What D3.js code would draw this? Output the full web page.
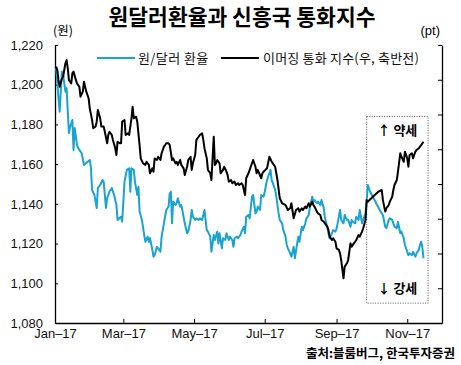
<!DOCTYPE html>
<html><head><meta charset="utf-8">
<script src="https://cdn.jsdelivr.net/npm/d3@7"></script>
<style>
html,body{margin:0;padding:0;background:#fff;}
svg{display:block;}
</style>
</head><body>
<svg id="c" width="461" height="365"></svg>
<script>
// ---- data ----
const title = "원달러환율과 신흥국 통화지수";
const leftUnit = "(원)";
const rightUnit = "(pt)";
const source = "출처:블룸버그, 한국투자증권";
const seriesNames = ["원/달러 환율", "이머징 통화 지수(우, 축반전)"];
const xTickDates = ["1/1","3/1","5/1","7/1","9/1","11/1"];
const leftTicks = [1080,1100,1120,1140,1160,1180,1200,1220];
const boxDates = ["9/27","11/19"];
const boxValues = [1184, 1090];
const boxLabels = ["↑ 약세","↓ 강세"];

const blueDates = ["1/2","1/5","1/7","1/8","1/10","1/11","1/13","1/14","1/16","1/17","1/18","1/20","1/21","1/23","1/24","1/26","1/28","1/31","2/1","2/2","2/4","2/6","2/7","2/9","2/11","2/12","2/14","2/15","2/17","2/19","2/21","2/23","2/24","2/26","2/27","2/28","3/2","3/4","3/6","3/7","3/8","3/10","3/11","3/13","3/14","3/15","3/17","3/19","3/20","3/22","3/23","3/24","3/26","3/27","3/28","3/30","3/31","4/2","4/3","4/5","4/6","4/7","4/9","4/10","4/11","4/12","4/13","4/15","4/16","4/17","4/19","4/20","4/22","4/23","4/25","4/26","4/28","4/29","4/30","5/2","5/3","5/5","5/6","5/8","5/9","5/10","5/12","5/13","5/15","5/16","5/18","5/19","5/21","5/22","5/23","5/25","5/26","5/28","5/29","5/31","6/1","6/3","6/4","6/5","6/7","6/8","6/10","6/11","6/13","6/14","6/15","6/17","6/18","6/20","6/21","6/23","6/24","6/25","6/27","6/28","6/30","7/1","7/3","7/4","7/6","7/7","7/8","7/10","7/11","7/13","7/14","7/16","7/17","7/19","7/20","7/21","7/23","7/24","7/26","7/27","7/29","7/30","7/31","8/2","8/3","8/5","8/6","8/8","8/9","8/11","8/12","8/13","8/15","8/16","8/18","8/19","8/21","8/22","8/24","8/25","8/26","8/28","8/29","8/31","9/1","9/3","9/4","9/5","9/7","9/8","9/10","9/11","9/13","9/14","9/15","9/17","9/18","9/20","9/21","9/23","9/24","9/26","9/27","9/28","9/30","10/3","10/6","10/9","10/11","10/13","10/14","10/16","10/17","10/19","10/20","10/21","10/23","10/24","10/26","10/27","10/29","10/30","11/1","11/2","11/3","11/5","11/6","11/8","11/9","11/11","11/12","11/13","11/14","11/15"];
const blueValues = [1208.3,1186.4,1206.6,1204.9,1196.5,1198.3,1175.7,1178.7,1182.2,1167.1,1178.2,1169.6,1168.1,1166.3,1165.6,1159.6,1160.6,1162.1,1158.1,1147.0,1144.5,1137.9,1148.0,1149.5,1152.0,1151.2,1137.9,1142.9,1146.1,1148.0,1144.5,1139.4,1131.9,1133.0,1133.5,1131.0,1151.2,1157.1,1157.9,1146.1,1157.9,1157.1,1151.2,1144.5,1148.6,1136.1,1131.9,1124.3,1120.9,1123.5,1120.9,1122.8,1116.8,1113.4,1114.2,1118.4,1117.6,1115.9,1123.5,1130.2,1133.5,1136.9,1138.6,1145.3,1146.1,1130.2,1141.1,1139.4,1140.3,1142.8,1138.6,1139.4,1133.5,1130.2,1125.2,1126.0,1131.9,1136.9,1133.5,1131.9,1132.7,1131.9,1132.7,1131.9,1134.4,1136.9,1126.8,1126.0,1123.5,1115.9,1124.3,1121.8,1126.0,1120.1,1125.2,1117.6,1122.7,1121.8,1125.2,1121.8,1123.5,1121.8,1118.4,1122.7,1123.5,1122.7,1124.3,1126.0,1128.5,1125.2,1133.5,1134.4,1132.7,1143.6,1144.5,1135.2,1136.1,1138.6,1136.9,1144.5,1143.6,1146.1,1152.0,1153.7,1157.1,1152.0,1150.4,1147.0,1143.6,1135.2,1131.9,1130.2,1126.8,1123.5,1119.3,1117.6,1115.1,1113.4,1118.4,1112.6,1120.1,1123.5,1120.9,1128.5,1126.8,1130.2,1132.7,1134.4,1138.6,1143.6,1141.1,1141.9,1140.3,1141.1,1139.4,1141.9,1137.8,1132.7,1128.5,1125.2,1122.7,1125.2,1126.8,1126.0,1127.5,1133.5,1136.9,1131.9,1130.2,1134.4,1131.9,1131.9,1128.5,1131.9,1131.0,1130.2,1133.5,1131.9,1136.9,1130.2,1131.9,1135.2,1141.9,1149.5,1146.1,1142.8,1139.4,1136.1,1134.4,1128.5,1127.7,1131.9,1132.7,1131.9,1130.2,1128.5,1127.7,1131.0,1125.2,1126.0,1122.7,1119.3,1115.9,1114.2,1115.1,1114.2,1115.9,1113.4,1115.1,1116.8,1119.3,1120.9,1118.4,1112.6];

const blackDates = ["1/2","1/3","1/4","1/5","1/7","1/8","1/10","1/11","1/12","1/13","1/15","1/16","1/17","1/19","1/20","1/22","1/23","1/25","1/26","1/27","1/28","1/30","1/31","2/2","2/3","2/5","2/6","2/7","2/9","2/10","2/12","2/13","2/15","2/16","2/17","2/19","2/20","2/22","2/23","2/24","2/26","2/27","2/28","3/2","3/3","3/5","3/6","3/8","3/9","3/10","3/12","3/13","3/15","3/16","3/18","3/20","3/21","3/23","3/24","3/26","3/27","3/28","3/30","3/31","4/2","4/3","4/5","4/6","4/7","4/9","4/10","4/12","4/13","4/15","4/16","4/17","4/19","4/20","4/22","4/23","4/25","4/26","4/28","4/29","4/30","5/2","5/3","5/5","5/6","5/8","5/9","5/10","5/12","5/13","5/15","5/16","5/18","5/19","5/20","5/21","5/23","5/24","5/26","5/27","5/29","5/30","5/31","6/2","6/3","6/5","6/6","6/8","6/9","6/11","6/12","6/14","6/15","6/17","6/18","6/21","6/23","6/24","6/25","6/28","6/29","6/30","7/3","7/5","7/7","7/8","7/10","7/12","7/14","7/16","7/19","7/21","7/23","7/24","7/26","7/28","7/30","7/31","8/2","8/3","8/5","8/6","8/8","8/9","8/11","8/12","8/13","8/15","8/16","8/18","8/19","8/21","8/22","8/24","8/25","8/26","8/28","8/29","8/31","9/1","9/3","9/4","9/5","9/7","9/8","9/10","9/11","9/13","9/14","9/15","9/17","9/18","9/20","9/21","9/23","9/24","9/26","9/27","9/28","10/1","10/4","10/7","10/10","10/11","10/13","10/14","10/16","10/17","10/19","10/20","10/21","10/23","10/24","10/26","10/27","10/29","10/30","11/1","11/2","11/3","11/5","11/6","11/8","11/9","11/11","11/12","11/13","11/15"];
const blackValues = [1530.9,1532.6,1537.6,1541.0,1536.8,1536.0,1529.2,1527.6,1531.7,1537.6,1539.3,1534.3,1533.4,1537.6,1539.3,1541.0,1546.0,1543.5,1538.5,1541.0,1543.5,1546.8,1551.9,1557.8,1561.9,1561.1,1558.6,1552.7,1556.9,1561.1,1561.1,1563.7,1569.5,1565.3,1563.7,1565.3,1567.8,1572.0,1575.4,1568.7,1569.5,1569.5,1558.6,1557.8,1565.3,1564.5,1565.3,1556.9,1551.1,1556.9,1556.1,1558.6,1570.4,1577.1,1579.6,1580.4,1578.8,1580.4,1584.6,1582.1,1583.8,1577.1,1577.9,1576.3,1577.9,1574.5,1571.2,1570.4,1569.5,1569.5,1570.4,1577.9,1577.1,1579.6,1578.8,1580.4,1577.9,1580.4,1582.1,1585.5,1581.3,1577.9,1576.3,1582.9,1579.6,1575.4,1567.8,1566.2,1565.3,1564.5,1567.8,1572.0,1577.1,1582.9,1584.6,1588.0,1566.2,1580.4,1579.6,1577.9,1579.6,1584.6,1582.9,1581.3,1583.8,1585.5,1588.8,1588.0,1589.6,1588.8,1590.5,1589.6,1590.5,1589.6,1590.5,1595.5,1587.1,1584.6,1582.9,1577.9,1581.3,1584.6,1582.9,1587.1,1584.6,1583.8,1582.1,1576.3,1578.8,1579.6,1581.3,1588.0,1597.2,1599.7,1600.6,1603.1,1602.2,1599.7,1607.3,1603.1,1602.2,1603.9,1602.2,1603.1,1601.4,1602.2,1599.7,1601.4,1598.9,1600.6,1601.4,1603.9,1604.8,1605.6,1608.1,1609.0,1609.8,1611.5,1613.2,1616.5,1618.2,1617.3,1619.1,1622.4,1623.2,1624.9,1628.3,1637.5,1631.6,1629.9,1628.3,1619.9,1621.6,1620.7,1619.1,1618.2,1615.7,1616.5,1614.0,1612.3,1608.1,1598.1,1598.9,1597.2,1595.5,1593.9,1593.0,1598.1,1603.9,1602.2,1600.6,1598.9,1596.4,1593.0,1590.5,1588.0,1583.8,1574.5,1576.3,1578.8,1573.7,1577.1,1581.3,1575.4,1574.5,1577.1,1573.7,1572.9,1572.0,1571.2,1570.4,1568.7];

// ---- chart ----
const parse = s => d3.timeParse("%Y/%m/%d")("2017/" + s);
const blueData = blueDates.map((d,i) => ({date: parse(d), v: blueValues[i]}));
const blackData = blackDates.map((d,i) => ({date: parse(d), v: blackValues[i]}));

const svg = d3.select("#c");
const L = 55, R = 442, T = 45, B = 323;
const KR = "'Noto Sans CJK KR','Noto Sans',sans-serif";
const NUM = "'Liberation Sans',Arial,sans-serif";

const x = d3.scaleTime().domain([parse("1/1"), parse("12/1")]).range([L, R]);
const yL = d3.scaleLinear().domain([1080, 1220]).range([B, T]);
const yR = d3.scaleLinear().domain([1520, 1660]).range([T, B]); // reversed axis

// title
svg.append("text").attr("x", 242).attr("y", 25).attr("text-anchor", "middle")
  .attr("font-family", KR).attr("font-weight", "bold").attr("font-size", 21.5)
  .attr("fill", "#000").text(title);
svg.append("text").attr("x", 53).attr("y", 35).attr("font-family", KR)
  .attr("font-size", 12.5).attr("fill", "#000").text(leftUnit);
svg.append("text").attr("x", 440).attr("y", 35).attr("text-anchor", "end")
  .attr("font-family", NUM).attr("font-size", 13).attr("fill", "#000").text(rightUnit);

// axes
const gL = svg.append("g").attr("transform", `translate(${L},0)`)
  .call(d3.axisLeft(yL).tickValues(leftTicks).tickFormat(d3.format(","))
    .tickSizeInner(-3).tickSizeOuter(0).tickPadding(12));
const gR = svg.append("g").attr("transform", `translate(${R},0)`)
  .call(d3.axisRight(yR).tickValues(d3.range(1520, 1661, 17.5)).tickFormat("")
    .tickSizeInner(-4).tickSizeOuter(0));
const gB = svg.append("g").attr("transform", `translate(0,${B})`)
  .call(d3.axisBottom(x).tickValues(xTickDates.map(parse)).tickFormat(d3.timeFormat("%b-%y"))
    .tickSizeInner(-4).tickSizeOuter(0).tickPadding(6));
[gL, gR, gB].forEach(g => {
  g.select(".domain").attr("stroke", "#000").attr("stroke-width", 1.3);
  g.selectAll(".tick line").attr("stroke", "#000");
  g.selectAll("text").attr("font-family", NUM).attr("font-size", 13).attr("fill", "#111");
});
gB.selectAll(".tick text").text(function(){ return this.textContent.replace("-", "–"); });

// annotation box
const bx0 = x(parse(boxDates[0])), bx1 = x(parse(boxDates[1]));
const by0 = yL(boxValues[0]), by1 = yL(boxValues[1]);
svg.append("rect").attr("x", bx0).attr("y", by0).attr("width", bx1 - bx0).attr("height", by1 - by0)
  .attr("fill", "none").attr("stroke", "#555").attr("stroke-width", 1).attr("stroke-dasharray", "1,1.5");

// lines
const lineL = d3.line().x(d => x(d.date)).y(d => yL(d.v));
const lineR = d3.line().x(d => x(d.date)).y(d => yR(d.v));
svg.append("path").datum(blueData).attr("d", lineL).attr("fill", "none")
  .attr("stroke", "#19a3cf").attr("stroke-width", 2).attr("stroke-linejoin", "round");
svg.append("path").datum(blackData).attr("d", lineR).attr("fill", "none")
  .attr("stroke", "#000").attr("stroke-width", 2).attr("stroke-linejoin", "round");

// box labels
const bxm = (bx0 + bx1) / 2;
svg.append("text").attr("x", bxm).attr("y", by0 + 19).attr("text-anchor", "middle")
  .attr("font-family", KR).attr("font-weight", "bold").attr("font-size", 13)
  .attr("fill", "#000").text(boxLabels[0]);
svg.append("text").attr("x", bxm).attr("y", by1 - 10).attr("text-anchor", "middle")
  .attr("font-family", KR).attr("font-weight", "bold").attr("font-size", 13)
  .attr("fill", "#000").text(boxLabels[1]);

// legend
const lg = svg.append("g");
lg.append("line").attr("x1", 97).attr("x2", 135).attr("y1", 58).attr("y2", 58)
  .attr("stroke", "#19a3cf").attr("stroke-width", 2);
lg.append("text").attr("x", 138).attr("y", 62.5).attr("font-family", KR).attr("font-size", 13)
  .attr("letter-spacing", 0.4).attr("fill", "#111").text(seriesNames[0]);
lg.append("line").attr("x1", 221).attr("x2", 259).attr("y1", 58).attr("y2", 58)
  .attr("stroke", "#000").attr("stroke-width", 2);
lg.append("text").attr("x", 263).attr("y", 62.5).attr("font-family", KR).attr("font-size", 13)
  .attr("letter-spacing", 0.2).attr("fill", "#111").text(seriesNames[1]);

// source
svg.append("text").attr("x", 455).attr("y", 358).attr("text-anchor", "end")
  .attr("font-family", KR).attr("font-weight", "bold").attr("font-size", 12.5)
  .attr("fill", "#000").text(source);
</script>
</body></html>
